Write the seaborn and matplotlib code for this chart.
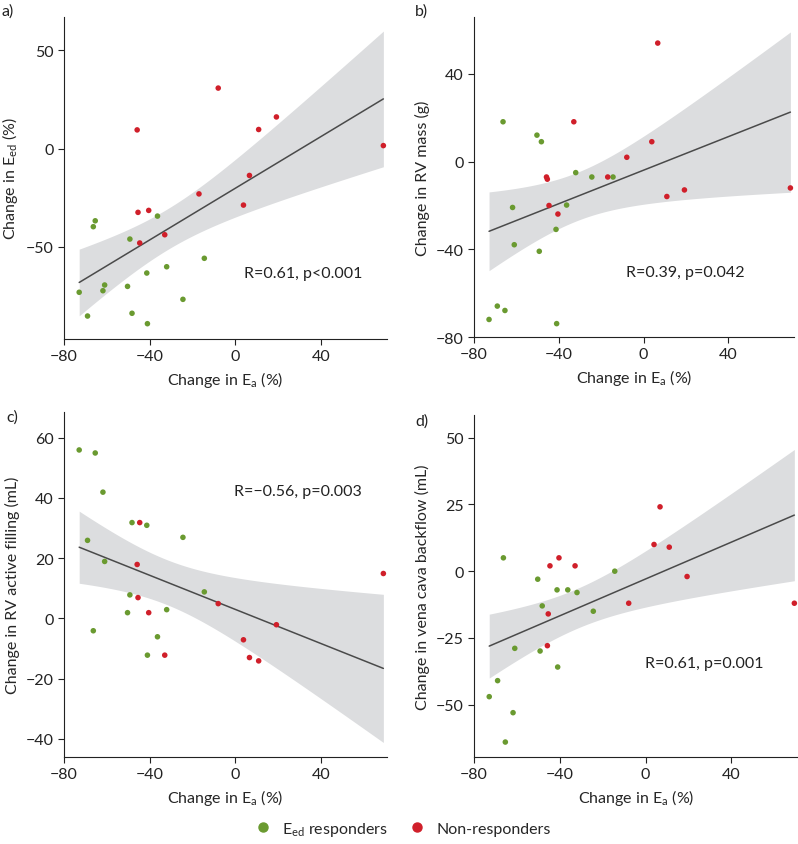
import numpy as np
import pandas as pd
import matplotlib
matplotlib.use("Agg")
import matplotlib.pyplot as plt
from matplotlib.lines import Line2D
import seaborn as sns

# change in Ea (%) - shared x for all panels
x_resp = [-72.9, -69.0, -66.3, -65.4, -61.8, -61.0, -50.3, -49.2, -48.2,
          -41.3, -41.0, -36.3, -32.0, -24.4, -14.4]
x_non = [-45.8, -45.4, -44.6, -40.4, -32.9, -16.9, -7.9, 3.9, 6.7, 11.0, 19.3, 69.3]

# a) change in Eed (%)
a_resp = [-73.2, -85.3, -39.8, -36.8, -72.4, -69.5, -70.2, -46.1, -83.9,
          -63.4, -89.2, -34.4, -60.2, -76.8, -55.9]
a_non = [9.5, -32.5, -48.1, -31.5, -43.9, -23.1, 30.8, -28.8, -13.7, 9.7, 16.1, 1.5]

# b) change in RV mass (g)
b_resp = [-72.0, -65.9, 18.2, -67.9, -20.9, -37.9, 12.1, -40.9, 9.1,
          -30.9, -73.9, -19.8, -5.0, -7.0, -7.0]
b_non = [-7.0, -8.0, -20.0, -23.9, 18.2, -7.0, 2.0, 9.1, 54.1, -15.9, -12.9, -12.0]

# c) change in RV active filling (mL)
c_resp = [55.9, 25.9, -4.1, 54.9, 41.9, 18.9, 1.9, 7.8, 31.8,
          30.9, -12.2, -6.1, 2.9, 26.9, 8.8]
c_non = [17.9, 6.9, 31.8, 1.9, -12.2, np.nan, 4.9, -7.1, -13.0, -14.1, -2.1, 14.9]

# d) change in vena cava backflow (mL)
d_resp = [-47.0, -41.0, 5.0, -64.0, -53.0, -28.9, -3.0, -29.9, -13.0,
          -7.0, -35.9, -7.0, -8.0, -15.0, 0.0]
d_non = [-27.9, -16.0, 2.0, 5.0, 2.0, np.nan, -12.0, 10.0, 24.1, 9.0, -2.0, -12.0]

GREEN = "#6a9a30"
RED = "#d01f2a"
FS = 11.5

sns.set_style("ticks")
plt.rcParams["font.family"] = ["Lato", "DejaVu Sans"]
plt.rcParams["mathtext.fontset"] = "custom"
plt.rcParams["mathtext.rm"] = "Lato"

panels = [
    ("a)", a_resp, a_non, "Change in E$_\\mathregular{ed}$ (%)", (-97, 67), [-50, 0, 50],
     "R=0.61, p<0.001", (0.556, 0.205)),
    ("b)", b_resp, b_non, "Change in RV mass (g)", (-80, 66), [-80, -40, 0, 40],
     "R=0.39, p=0.042", (0.474, 0.204)),
    ("c)", c_resp, c_non, "Change in RV active filling (mL)", (-46, 68.5), [-40, -20, 0, 20, 40, 60],
     "R=\u22120.56, p=0.003", (0.526, 0.771)),
    ("d)", d_resp, d_non, "Change in vena cava backflow (mL)", (-69.6, 58.5), [-50, -25, 0, 25, 50],
     "R=0.61, p=0.001", (0.529, 0.275)),
]

fig = plt.figure(figsize=(7.98, 8.45), dpi=100)
W, H = 798, 845
boxes = [(64, 18, 323, 322), (474, 18, 320, 320), (64, 413, 323, 345), (474, 416, 324, 342)]
label_pos = [(2, 12), (415, 12), (6, 418), (415, 422)]


def t975(dof):
    # two-sided 95% t quantile, small table
    table = {23: 2.069, 24: 2.064, 25: 2.060}
    return table.get(dof, 2.06)


for (lab, yr, yn, ylabel, ylim, yticks, txt, tpos), (l, t, w, h), (lx, ly) in zip(panels, boxes, label_pos):
    ax = fig.add_axes([l / W, 1 - (t + h) / H, w / W, h / H])
    df = pd.DataFrame({
        "x": x_resp + x_non,
        "y": yr + yn,
        "group": ["resp"] * len(x_resp) + ["non"] * len(x_non),
    }).dropna()

    # analytic 95% confidence band of the OLS fit
    xv, yv = df["x"].to_numpy(), df["y"].to_numpy()
    n = len(xv)
    slope, icpt = np.polyfit(xv, yv, 1)
    resid = yv - (slope * xv + icpt)
    se = np.sqrt(np.sum(resid ** 2) / (n - 2))
    grid = np.linspace(xv.min(), xv.max(), 200)
    half = t975(n - 2) * se * np.sqrt(1 / n + (grid - xv.mean()) ** 2 / np.sum((xv - xv.mean()) ** 2))
    fit = slope * grid + icpt
    ax.fill_between(grid, fit - half, fit + half, color="#dcdddf", lw=0, zorder=1)

    sns.regplot(data=df, x="x", y="y", scatter=False, ci=None,
                color="#4a4a4a", line_kws={"lw": 1.1, "zorder": 2}, ax=ax)
    sns.scatterplot(data=df, x="x", y="y", hue="group", palette={"resp": GREEN, "non": RED},
                    s=16, linewidth=0, legend=False, ax=ax, zorder=3)
    ax.set_xlim(-80, 71)
    ax.set_ylim(*ylim)
    ax.set_xticks([-80, -40, 0, 40])
    ax.set_xticklabels(["\u221280", "\u221240", "0", "40"])
    ax.set_yticks(yticks)
    ax.set_yticklabels([str(v).replace("-", "\u2212") for v in yticks])
    ax.set_xlabel("Change in E$_\\mathregular{a}$ (%)", fontsize=FS)
    ax.set_ylabel(ylabel, fontsize=FS)
    ax.tick_params(labelsize=FS, length=4, width=0.8, colors="#222222")
    for s in ["left", "bottom"]:
        ax.spines[s].set_linewidth(0.8)
        ax.spines[s].set_color("#222222")
    sns.despine(ax=ax)
    ax.text(*tpos, txt, transform=ax.transAxes, fontsize=FS, color="#222222", va="center")
    fig.text(lx / W, 1 - ly / H, lab, fontsize=FS, va="center", color="#222222")

handles = [
    Line2D([], [], marker="o", ls="", color=GREEN, markersize=6.5, label="E$_\\mathregular{ed}$ responders"),
    Line2D([], [], marker="o", ls="", color=RED, markersize=6.5, label="Non-responders"),
]
fig.legend(handles=handles, loc="center", bbox_to_anchor=(0.5, 1 - 830 / H), ncol=2,
           frameon=False, fontsize=FS, handletextpad=0.2, columnspacing=0.8)

fig.savefig("out.png", dpi=100)
